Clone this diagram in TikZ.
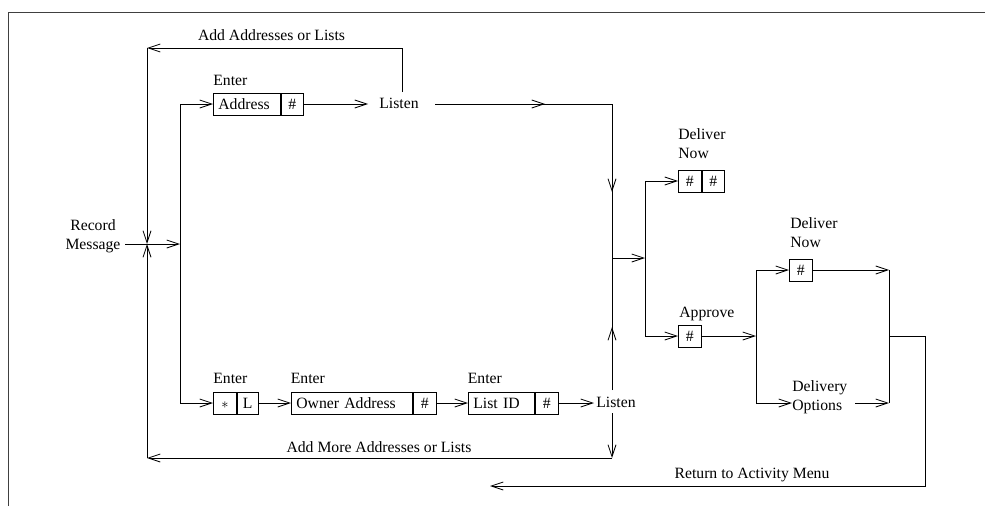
\documentclass[tikz,border=0pt]{standalone}
\usepackage{fontspec}
\setmainfont{Liberation Serif}
\usetikzlibrary{arrows.meta,decorations.markings}
\begin{document}
\begin{tikzpicture}[x=1pt,y=-1pt, line width=0.8pt, line join=miter,
  >={Straight Barb[length=12pt,width=8pt]},
  font=\fontsize{15.7pt}{19pt}\selectfont,
  lbl/.style={inner sep=0pt, text height=10.5pt, text depth=0pt},
  mlbl/.style={inner sep=0pt, align=left},
  cell/.style={draw, inner sep=0pt, minimum height=22pt, text height=10.5pt, text depth=0pt, anchor=west},
  tcell/.style={cell, text width=#1, inner xsep=5pt, align=left},
  hcell/.style={cell, minimum width=#1},
  frame/.style={draw=black!75, line width=1pt},
  midarr/.style={postaction={decorate,decoration={markings,mark=at position #1 with {\arrow{>}}}}}]
\useasboundingbox (0,0) rectangle (985,506);

% frame
\draw[frame] (8,506) -- (8,12) -- (985,12);

% labels
\node[lbl] (addlbl) at (271.5,35) {Add Addresses or Lists};
\node[lbl, anchor=west] (enter1) at (213,80) {Enter};
\node[lbl, anchor=west] (listenA) at (379,103.5) {Listen};
\node[mlbl, align=center, anchor=north] (rec) at (93,219.5) {Record\\Message};
\node[lbl, anchor=west] (enter2) at (213,378) {Enter};
\node[lbl, anchor=west] (enter3) at (290.5,378) {Enter};
\node[lbl, anchor=west] (enter4) at (467.5,378) {Enter};
\node[lbl, anchor=west] (listenB) at (596,402.5) {Listen};
\node[lbl] (addmore) at (379,447) {Add More Addresses or Lists};
\node[mlbl, anchor=north west] (dn1lbl) at (678,128.5) {Deliver\\Now};
\node[lbl, anchor=west] (applbl) at (679,312) {Approve};
\node[mlbl, anchor=north west] (dn2lbl) at (790,217.5) {Deliver\\Now};
\node[mlbl, anchor=north west] (dolbl) at (792,380.5) {Delivery\\Options};
\node[lbl] (retlbl) at (752,473) {Return to Activity Menu};

% boxes
\node[tcell=57pt] (addr) at (213,104) {Address};
\node[hcell=22pt] (addrh) at (addr.east) {\#};
\node[hcell=23pt] (star) at (213,403) {$\ast$};
\node[hcell=21pt] (ell) at (star.east) {L};
\node[tcell=111pt] (owner) at (291,403) {Owner Address};
\node[hcell=23pt] (ownerh) at (owner.east) {\#};
\node[tcell=56pt] (lid) at (468,403) {List ID};
\node[hcell=23pt] (lidh) at (lid.east) {\#};
\node[hcell=23pt] (dn1a) at (678,181) {\#};
\node[hcell=22pt] (dn1b) at (dn1a.east) {\#};
\node[hcell=23pt] (appr) at (678,336) {\#};
\node[hcell=23pt] (dn2) at (789,270) {\#};

% coordinates
\coordinate (recout) at (125,244);
\coordinate (cross) at (147,244);
\coordinate (split) at (180,244);
\coordinate (lAin) at (368,104);
\coordinate (lAup) at (402,92);
\coordinate (topR) at (402,48);
\coordinate (topL) at (147,48);
\coordinate (lAout) at (435,104);
\coordinate (c1) at (612,104);
\coordinate (j1) at (612,258);
\coordinate (lBup) at (612,390);
\coordinate (lBdown) at (612,413);
\coordinate (botR) at (612,458);
\coordinate (botL) at (147,458);
\coordinate (j2) at (645,258);
\coordinate (lBin) at (594,403);
\coordinate (j3) at (756,336);
\coordinate (doin) at (792,403);
\coordinate (doout) at (855,403);
\coordinate (k1) at (889,270);
\coordinate (k2) at (889,403);
\coordinate (j4) at (889,336);
\coordinate (r1) at (925,336);
\coordinate (r2) at (925,486);
\coordinate (retend) at (490,486);

% connectors
\draw[->] (recout) -- (split);
\draw[->] (split) |- (addr.west);
\draw[->] (split) |- (star.west);
\draw[->] (addrh.east) -- (lAin);
\draw[->] (lAup) -- (topR) -- (topL);
\draw[->] (topL) -- (cross);
\draw[midarr=110pt, midarr=265pt] (lAout) -- (c1) -- (j1);
\draw[midarr=63pt] (lBup) -- (j1);
\draw[->] (j1) -- (j2);
\draw[->] (j2) |- (dn1a.west);
\draw[->] (j2) |- (appr.west);
\draw[->] (appr.east) -- (j3);
\draw[->] (j3) |- (dn2.west);
\draw[->] (j3) |- (doin);
\draw[->] (dn2.east) -- (k1);
\draw[->] (doout) -- (k2);
\draw (k1) -- (k2);
\draw[->] (j4) -- (r1) -- (r2) -- (retend);
\draw[->] (ell.east) -- (owner.west);
\draw[->] (ownerh.east) -- (lid.west);
\draw[->] (lidh.east) -- (lBin);
\draw[->] (lBdown) -- (botR);
\draw[->] (botR) -- (botL);
\draw[->] (botL) -- (cross);
\end{tikzpicture}
\end{document}
